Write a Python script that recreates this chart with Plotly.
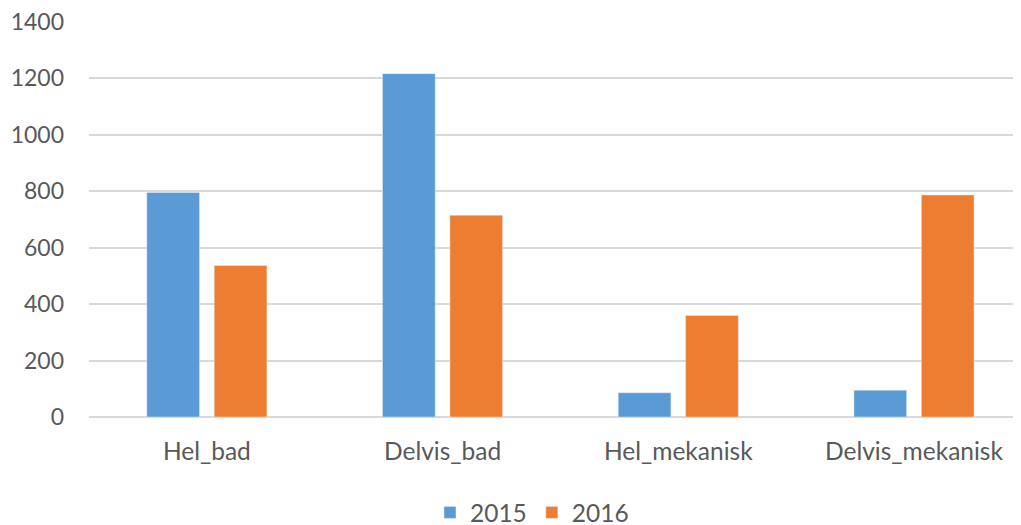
import plotly.graph_objects as go

categories = ["Hel_bad", "Delvis_bad", "Hel_mekanisk", "Delvis_mekanisk"]
values_2015 = [796, 1217, 86, 95]
values_2016 = [537, 715, 360, 787]
y_ticks = [0, 200, 400, 600, 800, 1000, 1200, 1400]

FONT = "Lato"
GRAY = "#595959"

fig = go.Figure()
fig.add_trace(go.Bar(name="2015", x=categories, y=values_2015, marker_color="#5B9BD5"))
fig.add_trace(go.Bar(name="2016", x=categories, y=values_2016, marker_color="#ED7D31"))

fig.update_layout(
    width=1021, height=525,
    margin=dict(l=81, r=8, t=14, b=116, autoexpand=False),
    paper_bgcolor="white", plot_bgcolor="white",
    barmode="group", bargap=0.428, bargroupgap=0.218,
    font=dict(family=FONT, size=22, color=GRAY),
    showlegend=True,
    legend=dict(orientation="h", x=0.4753, xanchor="center", y=-0.2418, yanchor="middle",
                font=dict(family=FONT, size=24.5, color=GRAY), itemwidth=30,
                traceorder="normal"),
)
fig.update_xaxes(range=[-0.5, 3.454], showgrid=False, zeroline=False, showline=False,
                 ticks="", ticklabelstandoff=17, automargin=False,
                 tickfont=dict(family=FONT, size=24.5, color=GRAY))
fig.update_yaxes(range=[0, 1400], tickvals=y_ticks, showgrid=True, gridcolor="#D9D9D9",
                 gridwidth=1.5, zeroline=True, zerolinecolor="#D9D9D9", zerolinewidth=1.5,
                 showline=False, ticks="", ticklabelstandoff=24, automargin=False,
                 ticklabeloverflow="allow",
                 tickfont=dict(family=FONT, size=23, color=GRAY))

fig.write_html("out.html")
